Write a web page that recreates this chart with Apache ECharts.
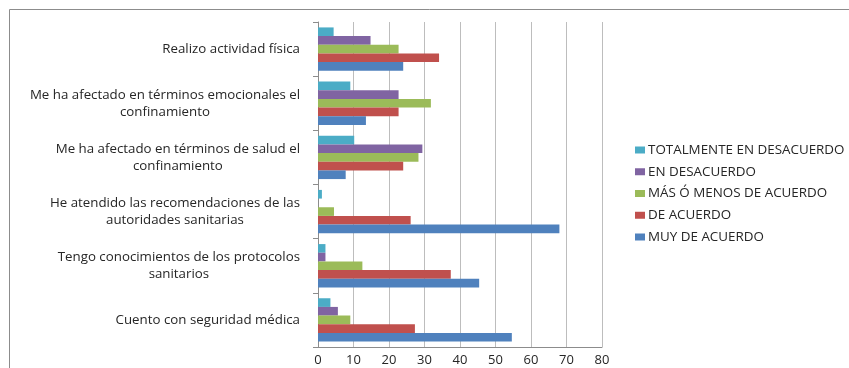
<!DOCTYPE html>
<html>
<head>
<meta charset="utf-8">
<script src="https://cdn.jsdelivr.net/npm/echarts@6/dist/echarts.min.js"></script>
<style>
  html, body { margin: 0; padding: 0; background: #fff; }
  #chart { width: 849px; height: 368px; }
</style>
</head>
<body>
<div id="chart"></div>
<script>
// Survey items, bottom to top on the category axis
const categories = [
  'Cuento con seguridad médica',
  'Tengo conocimientos de los protocolos\nsanitarios',
  'He atendido las recomendaciones de las\nautoridades sanitarias',
  'Me ha afectado en términos de salud el\nconfinamiento',
  'Me ha afectado en términos emocionales el\nconfinamiento',
  'Realizo actividad física'
];

// Response options, top bar to bottom bar within each group
const seriesNames = [
  'TOTALMENTE EN DESACUERDO',
  'EN DESACUERDO',
  'MÁS Ó MENOS DE ACUERDO',
  'DE ACUERDO',
  'MUY DE ACUERDO'
];

// Values per response, same order as categories
const totalDesacuerdo  = [3.5, 2.1, 1.1, 10.2, 9.1, 4.4];
const enDesacuerdo     = [5.6, 2.1, 0, 29.4, 22.7, 14.8];
const masOMenos        = [9.1, 12.5, 4.5, 28.3, 31.8, 22.7];
const deAcuerdo        = [27.3, 37.4, 26.1, 24.0, 22.7, 34.1];
const muyDeAcuerdo     = [54.6, 45.4, 68.0, 7.8, 13.5, 24.0];

const xTicks = [0, 10, 20, 30, 40, 50, 60, 70, 80];

const colors = ['#4bacc6', '#8064a2', '#9bbb59', '#c0504d', '#4f81bd'];
const values = [totalDesacuerdo, enDesacuerdo, masOMenos, deAcuerdo, muyDeAcuerdo];

const font = '"Open Sans", "DejaVu Sans", sans-serif';
const textColor = '#262626';

const chart = echarts.init(document.getElementById('chart'), null, { renderer: 'canvas' });

chart.setOption({
  animation: false,
  backgroundColor: '#fff',
  color: colors,
  graphic: [{
    type: 'rect',
    shape: { x: 9.5, y: 9.5, width: 900, height: 400 },
    style: { fill: 'none', stroke: '#8c8c8c', lineWidth: 1 },
    silent: true
  }],
  grid: { left: 318, right: 247, top: 22, bottom: 21, containLabel: false },
  legend: {
    orient: 'vertical',
    left: 630,
    top: 138,
    padding: 5,
    data: seriesNames,
    icon: 'rect',
    itemWidth: 10,
    itemHeight: 7,
    itemGap: 7.75,
    textStyle: { fontFamily: font, fontSize: 13.4, color: textColor, lineHeight: 14, padding: [0, 0, 0, -2] }
  },
  xAxis: {
    type: 'value',
    min: xTicks[0],
    max: xTicks[xTicks.length - 1],
    interval: 10,
    axisLine: { show: true, lineStyle: { color: '#8c8c8c' } },
    axisTick: { show: false },
    splitLine: { show: true, lineStyle: { color: '#bdbdbd', width: 1 } },
    axisLabel: { fontFamily: font, fontSize: 13, color: textColor, margin: 7 }
  },
  yAxis: {
    type: 'category',
    data: categories,
    axisLine: { show: true, lineStyle: { color: '#8c8c8c' } },
    axisTick: { show: true, length: 5, lineStyle: { color: '#8c8c8c' } },
    axisLabel: {
      fontFamily: font,
      fontSize: 13.3,
      color: textColor,
      margin: 18,
      lineHeight: 17,
      formatter: function (v) {
        return v.split('\n').map(function (line) { return '{c|' + line + '}'; }).join('\n');
      },
      rich: { c: { align: 'center', fontFamily: font, fontSize: 13.3, color: textColor, lineHeight: 17 } }
    }
  },
  series: seriesNames.map(function (name, i) {
    return {
      name: name,
      type: 'bar',
      data: values[i],
      barGap: '0%',
      barCategoryGap: '20%',
      itemStyle: { color: colors[i] }
    };
  })
});
</script>
</body>
</html>
